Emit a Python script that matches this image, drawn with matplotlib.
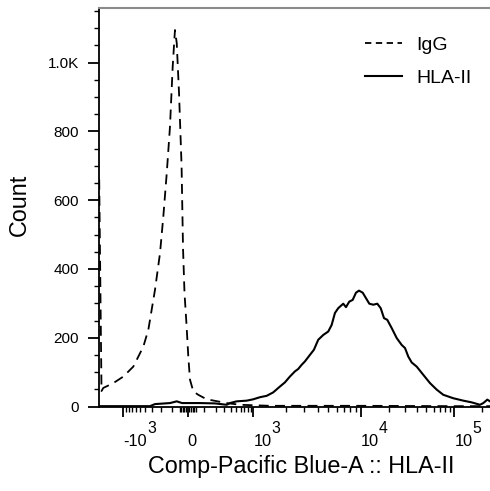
import numpy as np
import matplotlib
matplotlib.use('Agg')
import matplotlib.pyplot as plt
from matplotlib.lines import Line2D
from matplotlib.ticker import FixedLocator, FixedFormatter

plt.rcParams['font.family'] = ['Liberation Sans', 'DejaVu Sans']

# ---------------- data (fluorescence value, event count) ----------------
igg_x = [-2650, -2415, -2247, -1500, -1000, -664, -437, -352, -261, -205, -173,
         -143, -117, -97, -81, -69, -54, -38, -29, -20, -8, 3, 13, 33, 64, 123,
         334, 584, 1430, 10000, 100000, 240600]
igg_count = [660, 45, 54, 68, 87, 116, 174, 223, 339, 446, 552,
             678, 814, 988, 1095, 1057, 911, 700, 460, 330, 240, 145, 78, 44, 34, 21,
             10, 5, 2, 2, 1, 1]

hla_x = [-2619, -327, -261, -117, -69, -35, 75, 195, 334, 385, 510, 767, 1000,
         1154, 1333, 1535, 1773, 1973, 2196, 2445, 2624, 2822, 3029, 3373, 3675,
         4030, 4485, 4993, 5370, 5765, 6185, 6887, 7299, 7832, 8423, 9043, 9643,
         10505, 11393, 12356, 13634, 15041, 16358, 17740, 19237, 21441, 24250,
         27416, 29738, 32255, 35063, 39654, 46667, 55000, 64863, 76296, 97568,
         124800, 153450, 188190, 204100, 225200, 240600]
hla_count = [1, 1, 7, 10, 15, 10, 10, 9, 5, 10, 15, 17, 21,
             27, 31, 41, 58, 70, 87, 102, 109, 121, 131, 150, 165,
             194, 208, 218, 237, 272, 286, 299, 289, 305, 310, 331, 337,
             331, 315, 299, 296, 299, 286, 257, 252, 228, 199,
             179, 170, 145, 128, 116, 92, 68, 49, 34, 24,
             17, 12, 5, 10, 20, 15]

x_major = [-1000, 0, 1000, 10000, 100000]
x_major_base = ['-10', '0', '10', '10', '10']
x_major_exp = ['3', '', '3', '4', '5']
x_minor = ([-v for v in range(100, 1000, 100)] + [-50, -40, -30, -20, -10, 10, 20, 30, 40, 50]
           + list(range(100, 1000, 100)) + list(range(2000, 10000, 1000))
           + list(range(20000, 100000, 10000)) + [200000])
y_major = [0, 200, 400, 600, 800, 1000]
y_major_labels = ['0', '200', '400', '600', '800', '1.0K']
y_minor = list(range(50, 1160, 50))

series_names = ['IgG', 'HLA-II']

# ---------------- biexponential display transform ----------------
C = 150.0
T_ANCH = np.array([-10.0, -2.596, 0.0, 2.596, 4.893, 7.195, 12.0])
P_ANCH = np.array([-60.7, 123.3, 187.8, 253.3, 360.7, 454.3, 649.6])


def fwd(x):
    x = np.asarray(x, dtype=float)
    return np.interp(np.arcsinh(x / C), T_ANCH, P_ANCH)


def inv(p):
    p = np.asarray(p, dtype=float)
    return C * np.sinh(np.interp(p, P_ANCH, T_ANCH))


W, H = 490, 491
fig = plt.figure(figsize=(W / 100, H / 100), dpi=100)
left_px, right_px, top_px, bot_px = 99, 490, 8, 406.5
ax = fig.add_axes([left_px / W, 1 - bot_px / H, (right_px - left_px) / W, (bot_px - top_px) / H])

ax.set_xscale('function', functions=(fwd, inv))

ax.plot(igg_x, igg_count, color='black', lw=1.3, linestyle=(0, (5.5, 3.5)))
ax.plot(hla_x, hla_count, color='black', lw=1.5)

ax.set_xlim(float(inv(left_px)), float(inv(right_px)))
ax.set_ylim(0, 1159)

ax.xaxis.set_major_locator(FixedLocator(x_major))
ax.xaxis.set_major_formatter(FixedFormatter(x_major_base))
ax.xaxis.set_minor_locator(FixedLocator(x_minor))
ax.yaxis.set_major_locator(FixedLocator(y_major))
ax.yaxis.set_major_formatter(FixedFormatter(y_major_labels))
ax.yaxis.set_minor_locator(FixedLocator(y_minor))

ax.tick_params(axis='x', which='major', length=7.2, width=1.3, labelsize=11.8, pad=12.4)
ax.tick_params(axis='x', which='minor', length=3.6, width=1.0)
ax.tick_params(axis='y', which='major', length=7.9, width=1.3, labelsize=11, pad=6.5)
ax.tick_params(axis='y', which='minor', length=3.6, width=1.0)
for lab in ax.get_xticklabels():
    lab.set_horizontalalignment('left')

for s in ['left', 'bottom']:
    ax.spines[s].set_linewidth(1.3)
    ax.spines[s].set_color('black')
ax.spines['top'].set_color('#8a8a8a')
ax.spines['top'].set_linewidth(1.5)
ax.spines['right'].set_visible(False)

ax.set_ylabel('Count', fontsize=16.8)
ax.yaxis.set_label_coords((30.5 - left_px) / (right_px - left_px), 0.505)
ax.set_xlabel('Comp-Pacific Blue-A :: HLA-II', fontsize=16.8)
ax.xaxis.set_label_coords((301 - left_px) / (right_px - left_px), (bot_px - 455) / (bot_px - top_px))

handles = [Line2D([], [], color='black', lw=1.3, linestyle=(0, (3.5, 2.5))),
           Line2D([], [], color='black', lw=1.5)]
ax.legend(handles, series_names, loc='upper left', frameon=False, fontsize=14,
          bbox_to_anchor=((365 - left_px) / (right_px - left_px), (bot_px - 36) / (bot_px - top_px)),
          borderpad=0, borderaxespad=0, handlelength=1.9, handletextpad=0.75, labelspacing=0.8)

# exponents of the decade labels, drawn as raised text right after "10"
fig.canvas.draw()
renderer = fig.canvas.get_renderer()
for lab, ex in zip(ax.get_xticklabels(), x_major_exp):
    if not ex:
        continue
    bb = lab.get_window_extent(renderer)
    fig.text((bb.x1 + 0.0) / W, (bb.y1 + 1.0) / H, ex, fontsize=11.3,
             ha='left', va='baseline')

fig.savefig('out.png', dpi=100)
